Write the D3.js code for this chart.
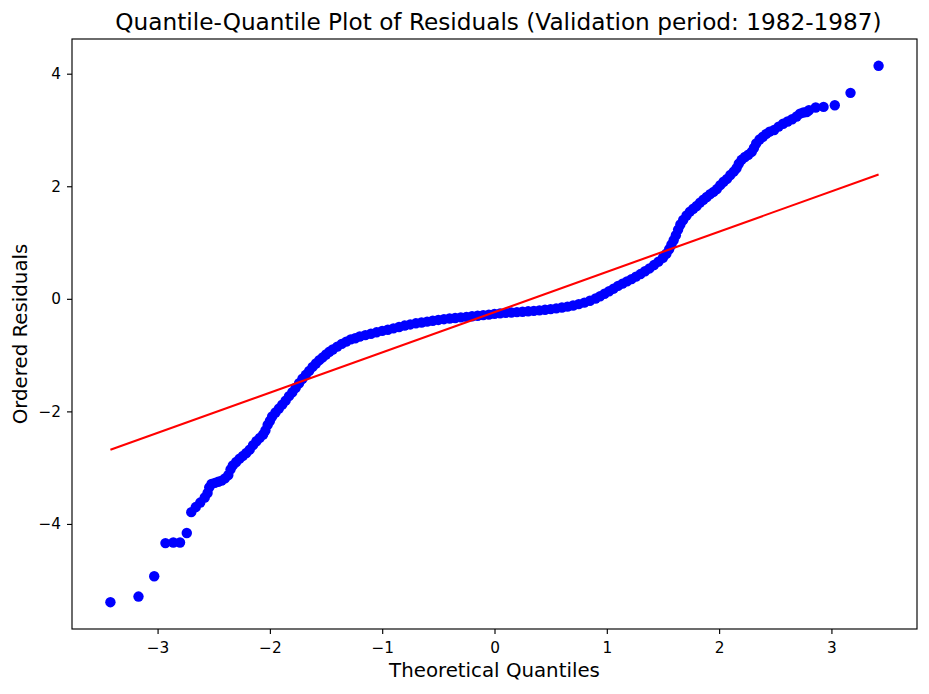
<!DOCTYPE html>
<html>
<head>
<meta charset="utf-8">
<script src="https://cdn.jsdelivr.net/npm/d3@7"></script>
<style>
  body { margin: 0; background: #fff; }
  svg { font-family: "DejaVu Sans", sans-serif; }
</style>
</head>
<body>
<svg id="chart" width="929" height="694"></svg>
<script>
/* Q-Q plot of residuals */

// theoretical quantiles (x) and ordered residuals (y), read point by point
var quantiles = [
  -3.42, -3.17, -3.03, -2.93, -2.86, -2.80, -2.74, -2.70,
  -2.66, -2.62, -2.58, -2.555, -2.54, -2.52, -2.49, -2.46, -2.43, -2.40,
  -2.37, -2.35, -2.33, -2.30, -2.27, -2.24, -2.21, -2.18, -2.15, -2.12,
  -2.09, -2.06, -2.04, -2.02, -2.00, -1.98, -1.95, -1.92, -1.89, -1.86,
  -1.83, -1.80, -1.77, -1.74, -1.71, -1.68, -1.65, -1.62, -1.59, -1.56,
  -1.53, -1.50, -1.47, -1.44, -1.40, -1.36, -1.32, -1.28, -1.24, -1.20,
  -1.15, -1.10, -1.05, -1.00, -0.95, -0.90, -0.85, -0.80, -0.75, -0.70,
  -0.65, -0.60, -0.55, -0.50, -0.45, -0.40, -0.35, -0.30, -0.25, -0.20,
  -0.15, -0.10, -0.05, 0.00, 0.05, 0.10, 0.15, 0.20, 0.25, 0.30,
  0.35, 0.40, 0.45, 0.50, 0.55, 0.60, 0.65, 0.70, 0.75, 0.80,
  0.85, 0.90, 0.94, 0.98, 1.02, 1.06, 1.10, 1.14, 1.18, 1.22,
  1.26, 1.30, 1.34, 1.38, 1.42, 1.46, 1.50, 1.53, 1.555, 1.575,
  1.595, 1.615, 1.635, 1.655, 1.68, 1.71, 1.74, 1.77, 1.80, 1.83,
  1.86, 1.89, 1.92, 1.95, 1.98, 2.01, 2.04, 2.07, 2.10, 2.13,
  2.155, 2.175, 2.20, 2.23, 2.26, 2.29, 2.31, 2.33, 2.36, 2.39,
  2.42, 2.45, 2.49, 2.53, 2.57, 2.61, 2.65, 2.69, 2.72, 2.75,
  2.78, 2.80, 2.86, 2.93, 3.03, 3.17, 3.42
];
var residuals = [
  -5.39, -5.29, -4.93, -4.34, -4.33, -4.33, -4.16, -3.79,
  -3.70, -3.62, -3.53, -3.45, -3.35, -3.29, -3.27, -3.25, -3.23, -3.19,
  -3.13, -3.03, -2.96, -2.90, -2.84, -2.79, -2.74, -2.68, -2.60, -2.53,
  -2.47, -2.41, -2.34, -2.24, -2.17, -2.09, -2.02, -1.95, -1.88, -1.81,
  -1.73, -1.66, -1.58, -1.50, -1.42, -1.35, -1.28, -1.21, -1.15, -1.09,
  -1.04, -0.99, -0.94, -0.90, -0.85, -0.80, -0.76, -0.72, -0.70, -0.67,
  -0.645, -0.62, -0.595, -0.57, -0.55, -0.525, -0.50, -0.475, -0.455, -0.435,
  -0.42, -0.405, -0.39, -0.375, -0.362, -0.35, -0.34, -0.33, -0.32, -0.31,
  -0.30, -0.29, -0.28, -0.268, -0.258, -0.25, -0.243, -0.236, -0.229, -0.222,
  -0.214, -0.205, -0.195, -0.183, -0.17, -0.155, -0.138, -0.118, -0.095, -0.068,
  -0.035, 0.005, 0.045, 0.09, 0.135, 0.18, 0.23, 0.27, 0.31, 0.35,
  0.395, 0.44, 0.49, 0.54, 0.60, 0.66, 0.73, 0.80, 0.88, 0.96,
  1.04, 1.13, 1.23, 1.32, 1.40, 1.48, 1.55, 1.60, 1.65, 1.71,
  1.76, 1.81, 1.86, 1.90, 1.95, 2.02, 2.08, 2.13, 2.20, 2.26,
  2.32, 2.40, 2.47, 2.52, 2.56, 2.61, 2.68, 2.76, 2.83, 2.88,
  2.93, 2.97, 3.00, 3.06, 3.11, 3.15, 3.19, 3.24, 3.29, 3.31,
  3.32, 3.35, 3.40, 3.41, 3.44, 3.66, 4.14
];

// least squares line shown in red
var fitSlope = 0.715;
var fitIntercept = -0.236;

var xTicks = [-3, -2, -1, 0, 1, 2, 3];
var yTicks = [-4, -2, 0, 2, 4];

var titleText = "Quantile-Quantile Plot of Residuals (Validation period: 1982-1987)";
var xLabel = "Theoretical Quantiles";
var yLabel = "Ordered Residuals";

var margin = {top: 39, right: 12, bottom: 65, left: 72},
    width = 929 - margin.left - margin.right,
    height = 694 - margin.top - margin.bottom;

var svg = d3.select("#chart");
var g = svg.append("g")
    .attr("transform", "translate(" + margin.left + "," + margin.top + ")");

// 5% padding round the data, like matplotlib
var pad = function(ext){
    var d = (ext[1] - ext[0]) * 0.05;
    return [ext[0] - d, ext[1] + d];
};
var qExt = d3.extent(quantiles);
var x = d3.scaleLinear().domain(pad(qExt)).range([0, width]);
var y = d3.scaleLinear().domain(pad(d3.extent(residuals))).range([height, 0]);

var points = quantiles.map(function(q, i){ return [q, residuals[i]]; });

g.selectAll("circle.pt").data(points).enter().append("circle")
    .attr("class", "pt")
    .attr("cx", function(d){ return x(d[0]); })
    .attr("cy", function(d){ return y(d[1]); })
    .attr("r", 5.2)
    .attr("fill", "#0000ff");

var line = d3.line()
    .x(function(d){ return x(d); })
    .y(function(d){ return y(fitSlope * d + fitIntercept); });
g.append("path")
    .datum(qExt)
    .attr("d", line)
    .attr("fill", "none")
    .attr("stroke", "#ff0000")
    .attr("stroke-width", 2.1);

var xAxis = g.append("g")
    .attr("transform", "translate(0," + height + ")")
    .call(d3.axisBottom(x).tickValues(xTicks).tickSize(5).tickPadding(8).tickSizeOuter(0));
var yAxis = g.append("g")
    .call(d3.axisLeft(y).tickValues(yTicks).tickSize(5).tickPadding(6).tickSizeOuter(0));

[xAxis, yAxis].forEach(function(a){
    a.select(".domain").remove();
    a.selectAll(".tick line").attr("stroke", "#000").attr("stroke-width", 1.15);
    a.selectAll(".tick text")
        .attr("fill", "#000")
        .style("font-family", "DejaVu Sans")
        .style("font-size", "15.3px");
});

// frame
g.append("rect")
    .attr("width", width)
    .attr("height", height)
    .attr("fill", "none")
    .attr("stroke", "#000")
    .attr("stroke-width", 1.15);

svg.append("text")
    .attr("x", margin.left + width / 2 + 4)
    .attr("y", 30)
    .attr("text-anchor", "middle")
    .style("font-size", "23.2px")
    .text(titleText);

svg.append("text")
    .attr("x", margin.left + width / 2)
    .attr("y", 677)
    .attr("text-anchor", "middle")
    .style("font-size", "19.8px")
    .text(xLabel);

svg.append("text")
    .attr("transform", "translate(27," + (margin.top + height / 2) + ") rotate(-90)")
    .attr("text-anchor", "middle")
    .style("font-size", "19.8px")
    .text(yLabel);
</script>
</body>
</html>
